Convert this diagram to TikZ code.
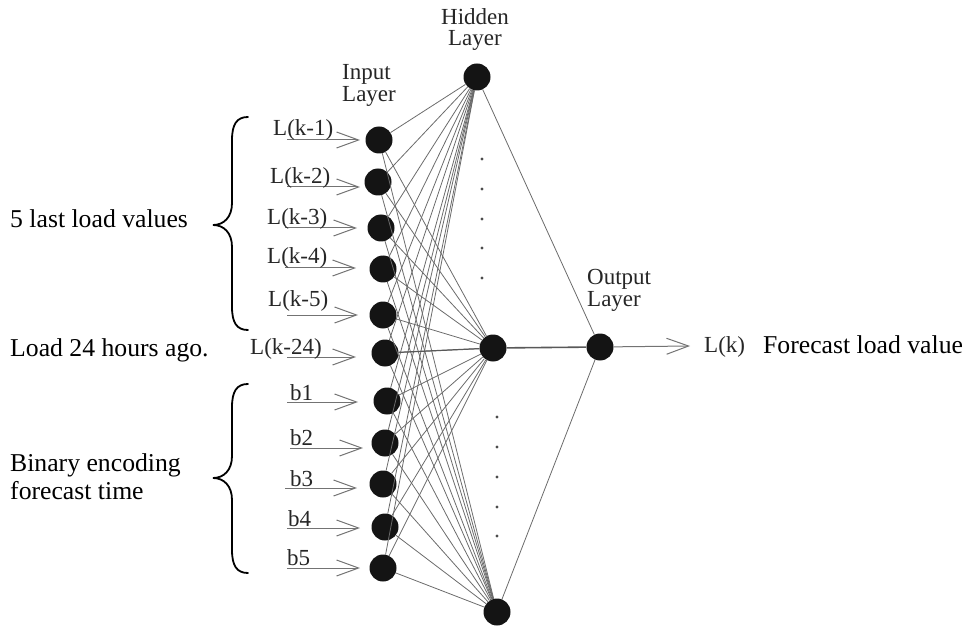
\documentclass[tikz,border=0pt]{standalone}
\usepackage{fontspec}
\setmainfont{Liberation Serif}
\usetikzlibrary{arrows.meta}
\begin{document}
\begin{tikzpicture}[x=1pt,y=-1pt,
  neuron/.style={circle,fill=black!92,minimum size=27pt,inner sep=0pt},
  conn/.style={draw=black!58,line width=0.8pt},
  strong/.style={draw=black!65,line width=1.6pt},
  inarr/.style={draw=black!55,line width=1pt,-{Straight Barb[length=22pt,width=16pt,line width=1pt]}},
  lbl/.style={font=\fontsize{23}{26}\selectfont,text=black!85,inner sep=0pt,anchor=base west},
  lblc/.style={lbl,anchor=base},
  big/.style={font=\fontsize{25.7}{24}\selectfont,inner sep=0pt,anchor=base west},
  brace/.style={line width=1.8pt,line cap=round},
  dotc/.style={fill=black!70}]
\useasboundingbox (0,0) rectangle (966,628);

% input neurons
\foreach \n/\x/\y in {1/379/140,2/378/182,3/381/228,4/383/269,5/383/315,6/385/353,
  7/387/401,8/385/443,9/383/484,10/385/527,11/383/568}
  \node[neuron] (i\n) at (\x,\y) {};
% hidden and output neurons
\node[neuron] (h1) at (477,77) {};
\node[neuron] (h2) at (493,348) {};
\node[neuron] (h3) at (497,612) {};
\node[neuron] (o) at (600,347) {};

% connections input -> hidden
\foreach \i in {1,...,11}
  \foreach \h in {1,2,3}
    \draw[conn] (i\i) -- (h\h);
\draw[draw=black!65,line width=1.2pt] (i6) -- (h2);
% hidden -> output
\draw[conn] (h1) -- (o);
\draw[conn] (h3) -- (o);
\draw[strong] (h2) -- (o);

% dots
\foreach \y in {159,189,219,248,278} \fill[dotc] (482,\y) circle (1.6);
\foreach \y in {417,447,477,507,536} \fill[dotc] (497,\y) circle (1.6);

% input arrows and labels
\foreach \n/\sx/\tx/\ay/\lx/\by/\t in {
  1/287/360/140/273/136/{L(k-1)},
  2/287/360/187/270/184/{L(k-2)},
  3/285/357/228/267/225/{L(k-3)},
  4/285/356/268/267/264/{L(k-4)},
  5/287/358/315/268/306/{L(k-5)},
  6/287/356/357/250/354/{L(k-24)},
  7/287/358/402/290/400/{b1},
  8/290/363/448/290/445/{b2},
  9/285/357/488/290/486/{b3},
  10/287/360/528/288/526/{b4},
  11/287/360/568/287/565/{b5}}
{
  \coordinate (s\n) at (\sx,\ay);
  \coordinate (t\n) at (\tx,\ay);
  \draw[inarr] (s\n) -- (t\n);
  \node[lbl] (l\n) at (\lx,\by) {\t};
}

% output arrow
\coordinate (tk) at (690,346);
\draw[inarr] (o) -- (tk);
\node[lbl] (lk) at (704,352) {L(k)};
\node[big] (fc) at (763,353) {Forecast load value};

% layer titles
\node[lbl] (inT) at (342,80) {Input};
\node[lbl] (inL) at (342,102) {Layer};
\node[lblc] (hdT) at (475,25) {Hidden};
\node[lblc] (hdL) at (475,46) {Layer};
\node[lbl] (otT) at (587,284) {Output};
\node[lbl] (otL) at (587,306) {Layer};

% left descriptions
\node[big] (d1) at (10,228) {5 last load values};
\node[big] (d2) at (10,356) {Load 24 hours ago.};
\node[big] (d3) at (10,471) {Binary encoding};
\node[big] (d4) at (10,499) {forecast time};

% braces
\draw[brace] (248,117) .. controls (237,117) and (232,124) .. (232,140) -- (232,203)
  .. controls (232,217) and (224,225) .. (213,225)
  .. controls (224,225) and (232,233) .. (232,247) -- (232,307)
  .. controls (232,323) and (237,330) .. (248,330);
\draw[brace] (248,384) .. controls (237,384) and (232,391) .. (232,407) -- (232,456)
  .. controls (232,470) and (224,478) .. (213,478)
  .. controls (224,478) and (232,486) .. (232,500) -- (232,550)
  .. controls (232,566) and (237,573) .. (248,573);
\end{tikzpicture}
\end{document}
